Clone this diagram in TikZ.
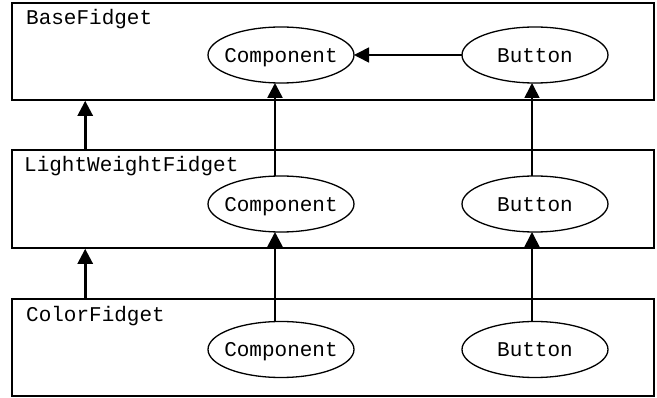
\documentclass[tikz,border=0pt]{standalone}
\usepackage{fontspec}
\setmonofont{Liberation Mono}
\usetikzlibrary{shapes.geometric,arrows.meta}
\begin{document}
\begin{tikzpicture}[x=1pt,y=-1pt,
  layerbox/.style={draw, line width=1.6pt, rectangle, inner sep=0pt},
  cls/.style={draw, ellipse, line width=1.3pt, minimum width=146pt, minimum height=56pt, inner xsep=-6pt, inner ysep=12.3pt, outer sep=0pt, text height=15pt, text depth=0pt, font=\ttfamily\fontsize{21}{25}\selectfont},
  title/.style={anchor=base west, inner sep=0pt, font=\ttfamily\fontsize{21}{25}\selectfont},
  thick arr/.style={line width=2.6pt, -{Triangle[length=15pt,width=15pt]}},
  thin arr/.style={line width=1.6pt, -{Triangle[length=15pt,width=15pt]}}
]
\useasboundingbox (0,0) rectangle (657,398);
% layer boxes
\node[layerbox, minimum width=642pt, minimum height=97pt] (b1) at (333,51.5) {};
\node[layerbox, minimum width=642pt, minimum height=98pt] (b2) at (333,199) {};
\node[layerbox, minimum width=642pt, minimum height=97pt] (b3) at (333,347.5) {};
% titles
\node[title] (t1) at (26,25) {BaseFidget};
\node[title] (t2) at (24,172) {LightWeightFidget};
\node[title] (t3) at (26,322) {ColorFidget};
% classes
\node[cls] (c1) at (281,55) {Component};
\node[cls] (k1) at (535,55) {Button};
\node[cls] (c2) at (281,204) {Component};
\node[cls] (k2) at (535,204) {Button};
\node[cls] (c3) at (281,349.5) {Component};
\node[cls] (k3) at (535,349.5) {Button};
% connectors
\draw[thin arr] (k1.west) -- (c1.east);
\draw[thick arr] ([xshift=74pt]b2.north west) -- ([xshift=74pt]b1.south west);
\draw[thick arr] ([xshift=74pt]b3.north west) -- ([xshift=74pt]b2.south west);
\draw[thick arr] ([xshift=-6pt]c2.north) -- ([xshift=-6pt]c1.south);
\draw[thick arr] ([xshift=-6pt]c3.north) -- ([xshift=-6pt]c2.south);
\draw[thin arr] ([xshift=-3pt]k2.north) -- ([xshift=-3pt]k1.south);
\draw[thin arr] ([xshift=-3pt]k3.north) -- ([xshift=-3pt]k2.south);
\end{tikzpicture}
\end{document}
